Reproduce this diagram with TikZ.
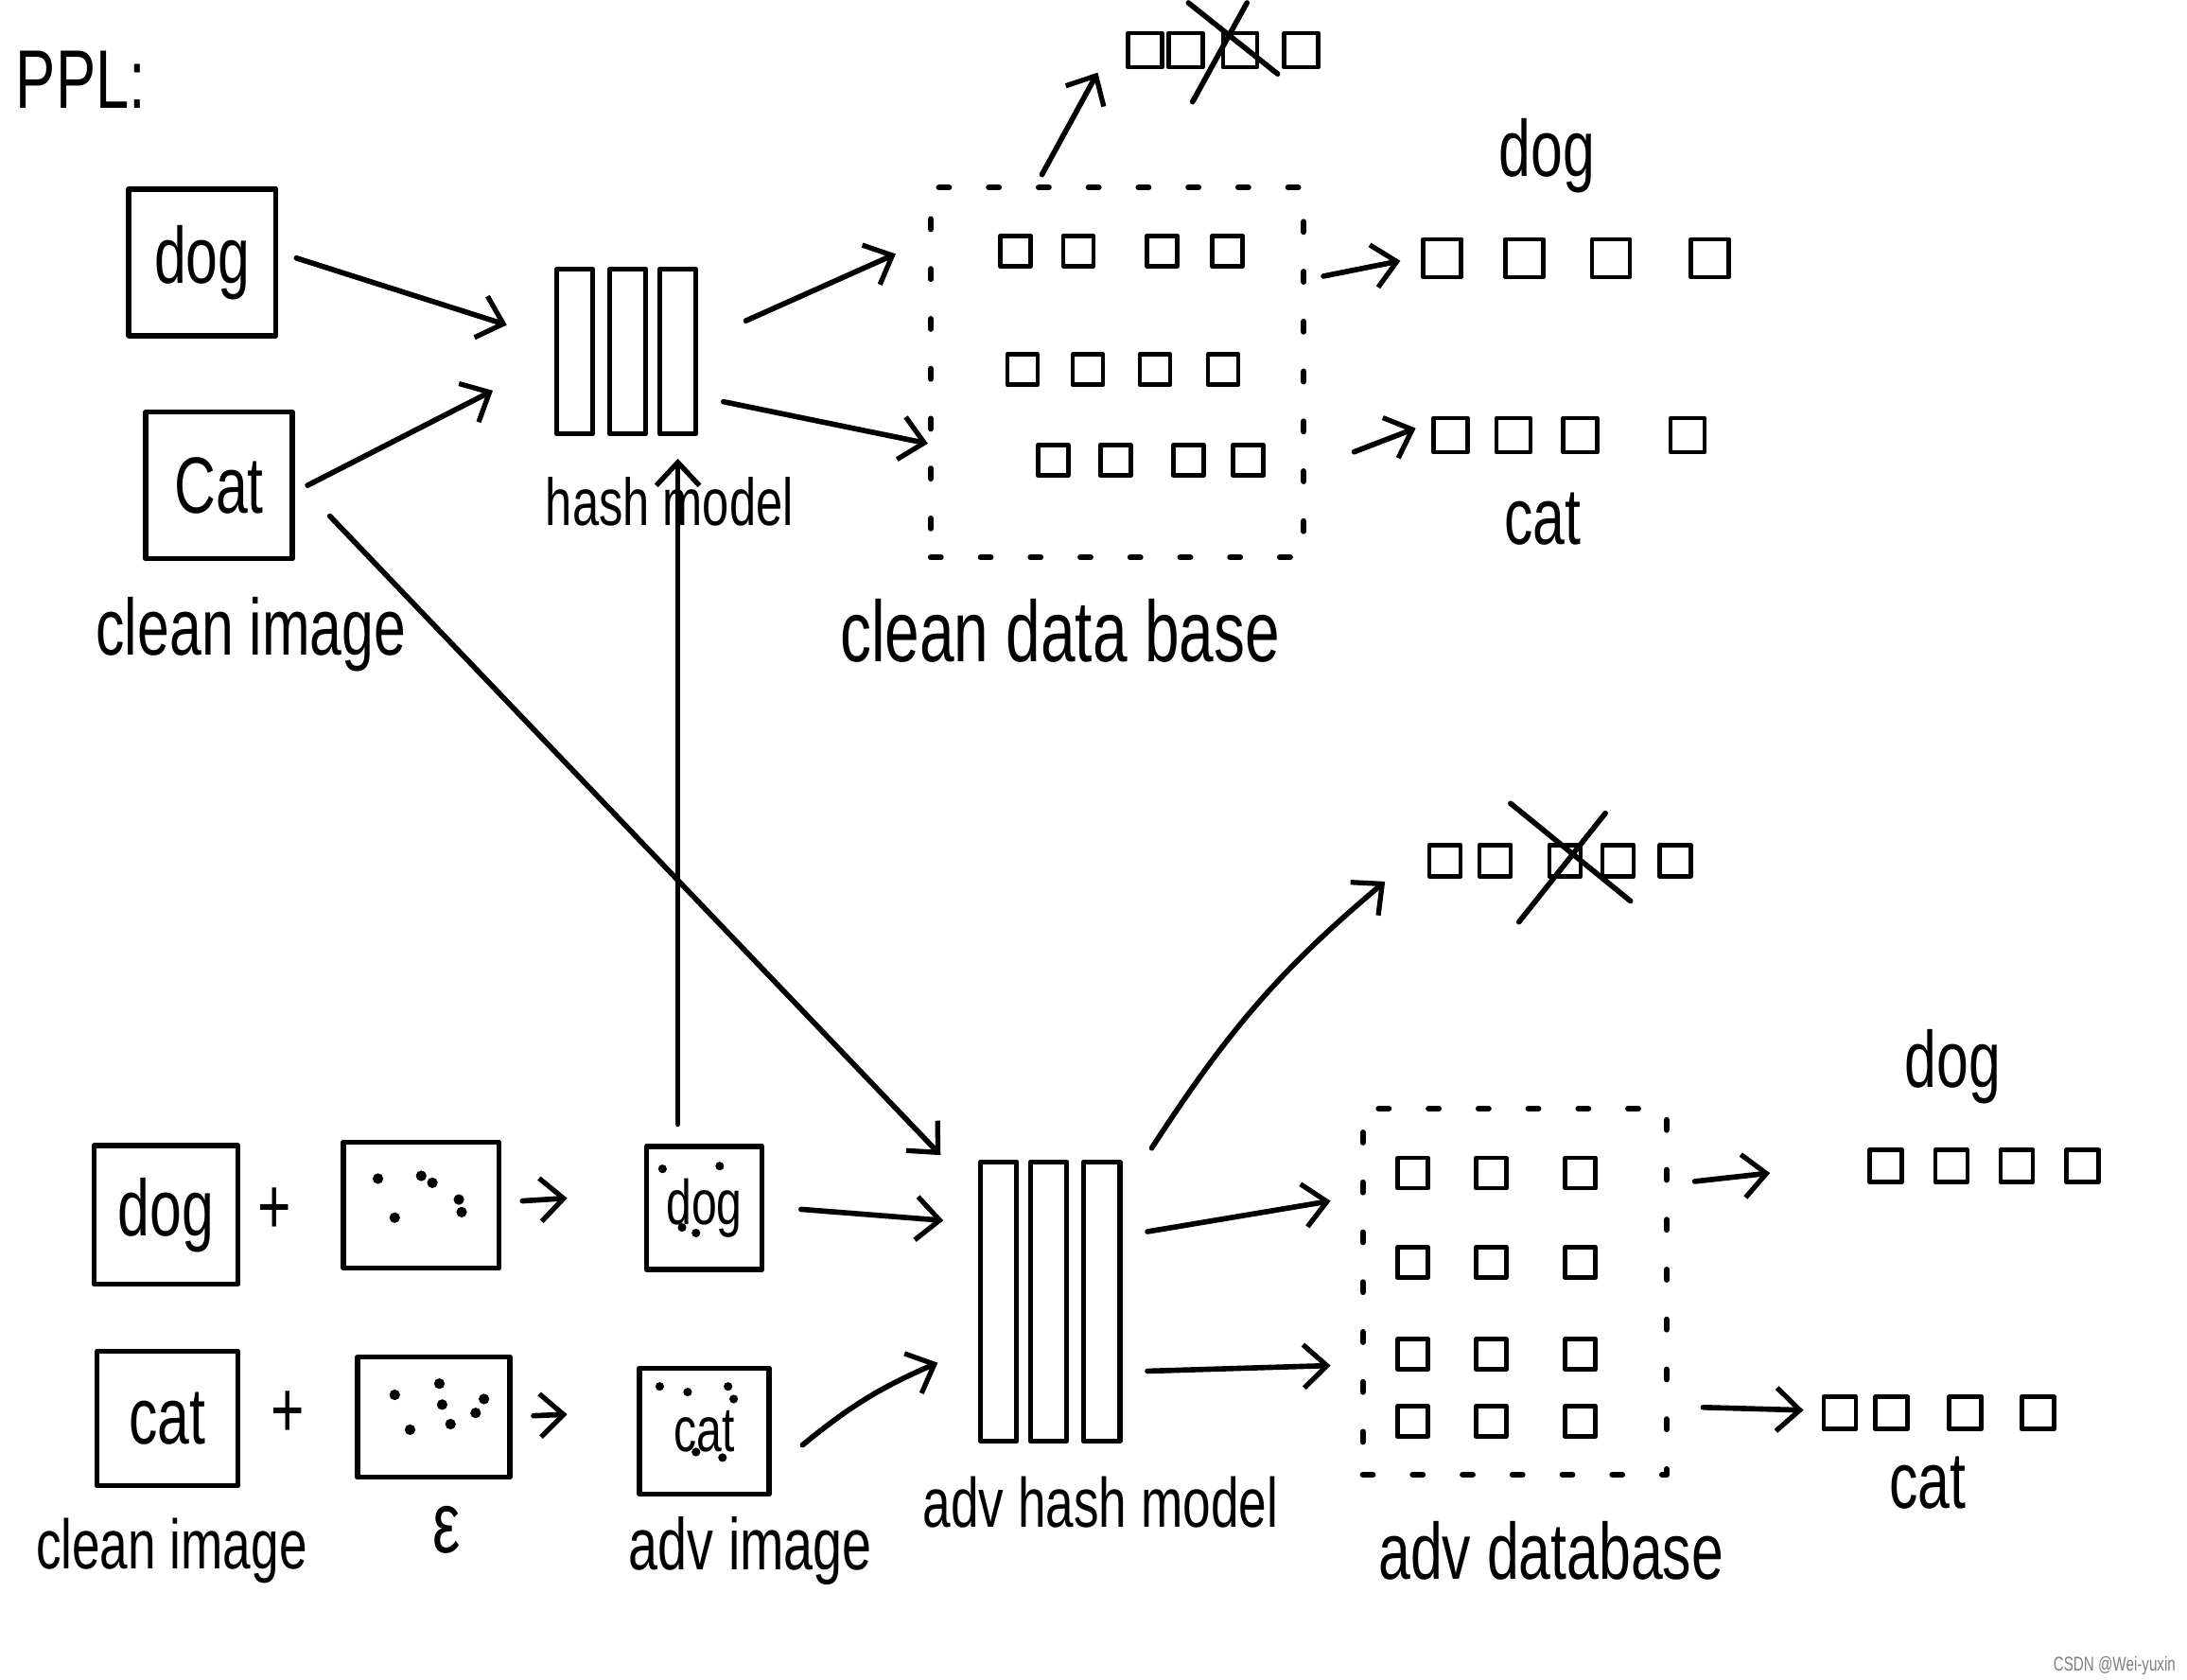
\documentclass[tikz,border=0pt]{standalone}
\usepackage{fontspec}
\setmainfont{Liberation Sans}[FakeStretch=0.72]
\usetikzlibrary{arrows.meta,calc}

\begin{document}
\begin{tikzpicture}
  [x=0.014745cm,y=0.014745cm,line cap=round,line join=round,
   every node/.style={inner sep=0pt},
   ink/.style={line width=1.6pt},
   arr/.style={ink,-{Straight Barb[length=7pt,width=13pt,line width=1.5pt]}},
   imgbox/.style 2 args={draw,ink,minimum width=#1cm,minimum height=#2cm,font=\fontsize{24}{24}\selectfont},
   bar/.style={draw,line width=1.5pt,minimum width=0.38cm,minimum height=#1cm},
   dbase/.style={draw,line width=1.8pt,dash pattern=on 3pt off 12pt},
   thumb/.style={draw,line width=1.3pt,minimum width=#1cm,minimum height=#1cm},
   thumb/.default=0.32,
   lbl/.style={font=\fontsize{#1}{#1}\selectfont},
   lbl/.default=24]
  \path[use as bounding box,fill=white] (0,0) rectangle (1568,-1204);

  \node[lbl=25] (ppl) at (58,-57) {PPL:};

  % clean images and hash model
  \node[imgbox={1.55}{1.55}] (cdog) at (145,-188) {dog};
  \node[imgbox={1.55}{1.55}] (ccat) at (157,-348) {Cat};
  \node[lbl] (lclean) at (180,-455) {clean image};
  \foreach \n/\x in {1/412,2/450,3/486}
    \node[bar=1.74] (hm\n) at (\x,-252) {};
  \node[lbl=20] (lhash) at (480,-360) {hash model};

  \node[dbase,minimum width=3.94cm,minimum height=3.91cm] (cdb) at (801,-267) {};
  \foreach \x [count=\i] in {728,773,833,880} \node[thumb] (ca\i) at (\x,-180) {};
  \foreach \x [count=\i] in {733,780,828,877} \node[thumb] (cb\i) at (\x,-265) {};
  \foreach \x [count=\i] in {755,800,852,895} \node[thumb] (cc\i) at (\x,-330) {};
  \node[lbl=26] (lcdb) at (760,-452) {clean data base};

  \foreach \x [count=\i] in {821,850,889,933} \node[thumb=0.36] (ct\i) at (\x,-36) {};
  \foreach \x [count=\i] in {1034,1093,1155,1226} \node[thumb=0.4] (cdr\i) at (\x,-185) {};
  \foreach \x [count=\i] in {1040,1085,1133,1210} \node[thumb=0.36] (ccr\i) at (\x,-312) {};
  \node[lbl] (ldog1) at (1109,-112) {dog};
  \node[lbl] (lcat1) at (1106,-372) {cat};

  % adversarial images and hash model
  \node[imgbox={1.52}{1.46}] (bdog) at (119,-871) {dog};
  \node[lbl] (plus1) at (197,-868) {+};
  \node[imgbox={1.64}{1.33}] (eps1) at (302,-864) {};
  \node[imgbox={1.22}{1.3},font=\fontsize{19}{19}\selectfont] (adog) at (505,-866) {dog};
  \node[imgbox={1.49}{1.42}] (bcat) at (120,-1017) {cat};
  \node[lbl] (plus2) at (206,-1014) {+};
  \node[imgbox={1.61}{1.27}] (eps2) at (311,-1016) {};
  \node[imgbox={1.37}{1.33},font=\fontsize{19}{19}\selectfont] (acat) at (505,-1026) {cat};
  \node[lbl=21] (lclean2) at (123,-1112) {clean image};
  \node[lbl=26] (leps) at (320,-1097) {ε};
  \node[lbl=22] (ladv) at (538,-1112) {adv image};

  \foreach \dx/\dy in {-31/19,0/21,8/16,27/4,29/-5,-19/-9}
    \fill (eps1.center) ++(\dx,\dy) circle (1.6pt);
  \foreach \dx/\dy in {4/24,-28/16,36/13,6/9,30/3,12/-5,-17/-9}
    \fill (eps2.center) ++(\dx,\dy) circle (1.6pt);
  \foreach \dx/\dy in {-30/28,11/30,-16/-14,-6/-18}
    \fill (adog.center) ++(\dx,\dy) circle (1.3pt);
  \foreach \dx/\dy in {-32/32,-12/28,17/32,21/23,-6/-15,13/-19}
    \fill (acat.center) ++(\dx,\dy) circle (1.3pt);

  \foreach \n/\x in {1/716,2/752,3/790}
    \node[bar=2.95] (ah\n) at (\x,-933) {};
  \node[lbl=21] (lahash) at (789,-1077) {adv hash model};

  \node[dbase,minimum width=3.21cm,minimum height=3.87cm] (adb) at (1086,-926) {};
  \foreach \r/\y in {a/-841,b/-905,c/-971,d/-1019}
    \foreach \x [count=\i] in {1013,1069,1133}
      \node[thumb] (a\r\i) at (\x,\y) {};
  \node[lbl] (ladb) at (1112,-1112) {adv database};

  \foreach \x [count=\i] in {1036,1072,1122,1160,1201} \node[thumb=0.33] (rb\i) at (\x,-617) {};
  \foreach \x [count=\i] in {1352,1399,1446,1493} \node[thumb=0.34] (adr\i) at (\x,-836) {};
  \foreach \x [count=\i] in {1319,1356,1409,1461} \node[thumb=0.34] (acr\i) at (\x,-1013) {};
  \node[lbl] (ldog2) at (1400,-765) {dog};
  \node[lbl] (lcat2) at (1382,-1063) {cat};

  \draw[ink] (ct3.center) ++(-37,34) -- ++(64,-51) (ct3.center) ++(5,34) -- ++(-39,-71);
  \draw[ink] (rb3.center) ++(-39,41) -- ++(86,-70) (rb3.center) ++(29,34) -- ++(-62,-78);

  \node[font=\fontsize{6}{6}\selectfont,text=gray] (mark) at (1516,-1194) {CSDN @Wei-yuxin};

  % connectors
  \foreach \from/\fx/\fy/\to/\tx/\ty in {cdog.east/13/3/hm1.west/-34/19,
                                 ccat.east/9/0/hm1.west/-44/-28,
                                 hm3.east/34/22/cdb.west/-23/85,
                                 hm3.east/18/-36/cdb.west/0/-51,
                                 cdb.north/-54/7/ct1.center/-34/-16,
                                 cdb.east/12/69/cdr1.center/-30/-2,
                                 cdb.east/34/-57/ccr1.center/-25/5,
                                 ccat.east/25/-22/ah1.north west/-27/3,
                                 eps1.east/15/3/adog.west/-55/7,
                                 eps2.east/15/1/acat.west/-50/12,
                                 adog.east/26/-1/ah1.west/-25/58,
                                 ah3.east/18/50/adb.west/-21/65,
                                 ah3.east/18/-50/adb.west/-21/-53,
                                 adb.east/18/79/adr1.center/-83/-5,
                                 adb.east/24/-83/acr1.center/-26/2}
    \draw[arr] ([shift={(\fx,\fy)}]\from) -- ([shift={(\tx,\ty)}]\to);
  \draw[arr] ([shift={(22,-10)}]acat.east) to[bend left=8] ([shift={(-29,-44)}]ah1.west);
  \draw[arr] ([shift={(21,8)}]ah3.north east) to[out=57,in=220] ([shift={(-43,-15)}]rb1.center);
  \draw[arr] ($(hm3.south |- adog.north)+(0,14)$) -- ([shift={(0,-16)}]hm3.south);
\end{tikzpicture}
\end{document}
